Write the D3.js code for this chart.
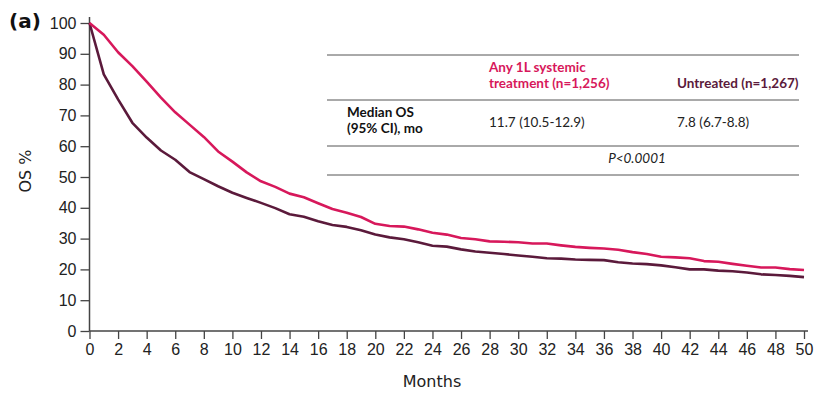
<!DOCTYPE html>
<html>
<head>
<meta charset="utf-8">
<script src="https://cdn.jsdelivr.net/npm/d3@7"></script>
<style>
  body { margin: 0; background: #fff; }
  svg { font-family: "DejaVu Sans", sans-serif; }
</style>
</head>
<body>
<svg id="chart" width="817" height="394"></svg>
<script>
// monthly OS %
var months = d3.range(0, 51);
var treated = [100, 96.2, 90.5, 86, 81, 75.8, 71, 67, 63, 58.3, 55, 51.5, 48.6, 46.8, 44.6, 43.4, 41.5, 39.6, 38.4, 37, 34.8, 34.1, 33.9, 33.0, 31.9, 31.3, 30.2, 29.8, 29.1, 29.0, 28.8, 28.4, 28.4, 27.8, 27.3, 27.0, 26.8, 26.4, 25.6, 25.0, 24.1, 23.9, 23.6, 22.7, 22.5, 21.8, 21.2, 20.6, 20.6, 20.1, 19.8];
var untreated = [100, 83.3, 75.2, 67.6, 62.8, 58.6, 55.6, 51.6, 49.3, 47, 44.9, 43.2, 41.6, 39.9, 37.9, 37.1, 35.6, 34.4, 33.8, 32.7, 31.3, 30.4, 29.8, 28.8, 27.7, 27.4, 26.5, 25.8, 25.4, 25.0, 24.5, 24.1, 23.6, 23.5, 23.2, 23.1, 23.0, 22.3, 21.9, 21.7, 21.3, 20.7, 20.0, 20.0, 19.6, 19.4, 19.0, 18.4, 18.2, 17.9, 17.5];
var xTicks = d3.range(0, 51, 2);
var yTicks = d3.range(0, 101, 10);

var pink = "#d7185b", maroon = "#5b1a3b";

var svg = d3.select("#chart");

var x = d3.scaleLinear().domain([0, 50]).range([89.5, 804]);
var y = d3.scaleLinear().domain([0, 100]).range([331, 23]);

// axes
var xAxis = svg.append("g")
    .attr("transform", "translate(0,331)")
    .call(d3.axisBottom(x).tickValues(xTicks).tickSize(8).tickPadding(5).tickSizeOuter(0));
var yAxis = svg.append("g")
    .attr("transform", "translate(89.5,0)")
    .call(d3.axisLeft(y).tickValues(yTicks).tickSize(9).tickPadding(4).tickSizeOuter(0));

[xAxis, yAxis].forEach(function(a){
    a.select(".domain").attr("stroke", "#444").attr("stroke-width", 1.5);
    a.selectAll(".tick line").attr("stroke", "#444").attr("stroke-width", 1.3);
    a.selectAll(".tick text").attr("fill", "#222").style("font-size", "16px");
});
// stretch the axis lines a little past the last ticks, as in the figure
xAxis.select(".domain").attr("d", "M" + x(0) + ",0H" + (x(50) + 4));
yAxis.select(".domain").attr("d", "M0," + y(0) + "V" + (y(100) - 6));

// curves
var line = d3.line()
    .x(function(d, i){ return x(months[i]); })
    .y(function(d){ return y(d); });

svg.append("path").datum(untreated)
    .attr("fill", "none").attr("stroke", maroon).attr("stroke-width", 2.6)
    .attr("stroke-linejoin", "round").attr("d", line);
svg.append("path").datum(treated)
    .attr("fill", "none").attr("stroke", pink).attr("stroke-width", 2.6)
    .attr("stroke-linejoin", "round").attr("d", line);

// labels
svg.append("text").text("(a)")
    .attr("x", 9).attr("y", 28)
    .style("font-size", "20px").style("font-weight", "bold").attr("fill", "#111");

svg.append("text").text("OS %")
    .attr("transform", "translate(31,171) rotate(-90)")
    .attr("text-anchor", "middle")
    .style("font-size", "16px").attr("fill", "#222");

svg.append("text").text("Months")
    .attr("x", 432).attr("y", 387)
    .attr("text-anchor", "middle")
    .style("font-size", "16px").attr("fill", "#222");

// summary table
var tableRules = [55, 100, 146, 175];
svg.selectAll(".rule")
    .data(tableRules)
    .enter()
    .append("line")
    .attr("x1", 327).attr("x2", 799)
    .attr("y1", function(d){ return d; }).attr("y2", function(d){ return d; })
    .attr("stroke", "#555").attr("stroke-width", 1);

var t = svg.append("g").style("font-size", "13.5px").style("font-family", "Lato, sans-serif");
t.append("text").text("Any 1L systemic").attr("x", 489).attr("y", 72)
    .attr("fill", pink).style("font-weight", "bold");
t.append("text").text("treatment (n=1,256)").attr("x", 489).attr("y", 88)
    .attr("fill", pink).style("font-weight", "bold");
t.append("text").text("Untreated (n=1,267)").attr("x", 677).attr("y", 88)
    .attr("fill", maroon).style("font-weight", "bold");
t.append("text").text("Median OS").attr("x", 347).attr("y", 117)
    .attr("fill", "#111").style("font-weight", "bold");
t.append("text").text("(95% CI), mo").attr("x", 347).attr("y", 133)
    .attr("fill", "#111").style("font-weight", "bold");
t.append("text").text("11.7 (10.5-12.9)").attr("x", 489).attr("y", 127).attr("fill", "#222");
t.append("text").text("7.8 (6.7-8.8)").attr("x", 677).attr("y", 127).attr("fill", "#222");
t.append("text").text("P<0.0001").attr("x", 637).attr("y", 163)
    .attr("text-anchor", "middle").style("font-style", "italic").attr("fill", "#222");
</script>
</body>
</html>
